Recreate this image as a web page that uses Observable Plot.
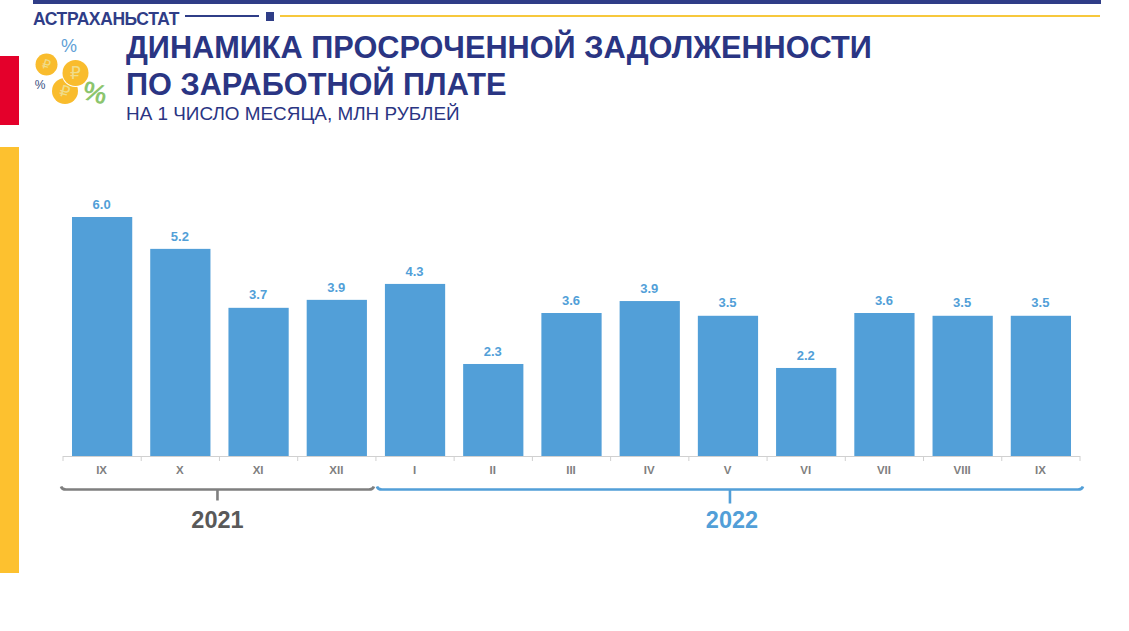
<!DOCTYPE html>
<html lang="ru"><head><meta charset="utf-8">
<script src="https://cdn.jsdelivr.net/npm/d3@7"></script>
<script src="https://cdn.jsdelivr.net/npm/@observablehq/plot@0.6"></script>
<style>
html,body{margin:0;padding:0;background:#fff;overflow:hidden}
body{width:1129px;height:631px;position:relative;font-family:"Liberation Sans",Arial,sans-serif}
.a{position:absolute;white-space:nowrap}
#chart{position:absolute;left:0;top:0}
#chart svg{display:block;background:transparent}
h1,h2{margin:0;font-weight:inherit;font-size:inherit}
</style></head><body>
<div class="a" style="left:33px;top:0;width:1068px;height:4px;background:#2f3d87"></div>
<div class="a" style="left:33px;top:9px;font-weight:700;font-size:17.5px;line-height:20px;color:#2f3d87;letter-spacing:-.4px">АСТРАХАНЬСТАТ</div>
<div class="a" style="left:185px;top:15px;width:74px;height:2px;background:#2f3d87"></div>
<div class="a" style="left:266px;top:12px;width:8px;height:9px;background:#2f3d87"></div>
<div class="a" style="left:280px;top:15px;width:820px;height:2px;background:#f7c83c"></div>
<div class="a" style="left:0;top:56px;width:19px;height:69px;background:#e4002b"></div>
<div class="a" style="left:0;top:147px;width:19px;height:426px;background:#fdc12f"></div>
<svg class="a" style="left:0;top:0" width="130" height="130" font-family="Liberation Sans">
  <text x="69" y="52" text-anchor="middle" font-size="18" fill="#5f9fd6">%</text>
  <text x="40" y="89" text-anchor="middle" font-size="12" fill="#39507f">%</text>
  <circle cx="46.500" cy="64.500" r="11" fill="#f9bc2d"/>
  <circle cx="65" cy="91" r="13" fill="#f9bc2d"/>
  <circle cx="75.500" cy="73" r="14" fill="#fff"/>
  <circle cx="75.500" cy="73" r="13" fill="#f9bc2d"/>
  <text x="46.500" y="69" text-anchor="middle" font-size="13" fill="#f0dc8a" font-family="DejaVu Sans" transform="rotate(15 46.500 64.500)">₽</text>
  <text x="75.500" y="79" text-anchor="middle" font-size="17" fill="#f0dc8a" font-family="DejaVu Sans">₽</text>
  <text x="65" y="97" text-anchor="middle" font-size="16" fill="#f0dc8a" font-family="DejaVu Sans" transform="rotate(15 65 91)">₽</text>
  <text x="95" y="102" text-anchor="middle" font-size="27" font-weight="700" fill="#8cc56e" transform="rotate(15 95 93)">%</text>
</svg>
<h1 class="a" style="left:126px;top:29px;font-weight:700;font-size:30.7px;line-height:37px;color:#2a3583">ДИНАМИКА ПРОСРОЧЕННОЙ ЗАДОЛЖЕННОСТИ<br>ПО ЗАРАБОТНОЙ ПЛАТЕ</h1>
<h2 class="a" style="left:126px;top:102px;font-size:18.9px;line-height:24px;color:#2a3583">НА 1 ЧИСЛО МЕСЯЦА, МЛН РУБЛЕЙ</h2>
<div id="chart"></div>
<script>
const months = ["IX","X","XI","XII","I","II","III","IV","V","VI","VII","VIII","IX"];
const years = [2021,2021,2021,2021,2022,2022,2022,2022,2022,2022,2022,2022,2022];
const values = [6.0,5.2,3.72,3.92,4.32,2.31,3.59,3.89,3.52,2.21,3.59,3.52,3.52];
const yearSpans = [
  {year:"2021", first:0, last:3, color:"#7f7f7f", text:"#595959", x0:-2, x1:-2, stem:11, labelDx:0},
  {year:"2022", first:4, last:12, color:"#529fd8", text:"#529fd8", x0:1, x1:3, stem:14, labelDx:2}
];
const rows = months.map((m,i)=>({key:i, month:m, year:years[i], value:values[i]}));
const barColor = "#529fd8";
const paddingOuter = 0.115;

function decorations(index, {x,y}) {
  const step = x(1)-x(0);
  const edge = i => x(i) - paddingOuter*step;
  const NS = "http://www.w3.org/2000/svg";
  const g = document.createElementNS(NS,"g");
  const y0 = y(0);
  const add = (tag, attrs, text) => {
    const e = document.createElementNS(NS,tag);
    for (const k in attrs) e.setAttribute(k, attrs[k]);
    if (text) e.textContent = text;
    g.appendChild(e);
  };
  for (let i=0;i<=months.length;i++) {
    const px = edge(0)+i*step;
    add("line",{x1:px,x2:px,y1:y0,y2:y0+5,stroke:"#d0d0d0"});
  }
  for (const s of yearSpans) {
    const a = edge(s.first)+s.x0, b = edge(s.last)+step+s.x1, by = y0+33.5, c=(a+b)/2;
    add("path",{d:`M${a},${by-3}Q${a+1},${by} ${a+5},${by}L${b-5},${by}Q${b-1},${by} ${b},${by-3}M${c},${by}V${by+s.stem}`,
      fill:"none",stroke:s.color,"stroke-width":2.6});
    add("text",{x:c+s.labelDx,y:y0+72,"text-anchor":"middle","font-size":23.500,"font-weight":700,fill:s.text,"font-family":"Liberation Sans"},s.year);
  }
  return g;
}

const plot = Plot.plot({
  width:1129, height:631,
  marginLeft:63, marginRight:49, marginTop:217, marginBottom:175,
  style:{fontFamily:"Liberation Sans", background:"transparent", overflow:"visible"},
  x:{type:"band", domain:d3.range(months.length), paddingInner:0.23, paddingOuter, round:false, axis:null},
  y:{domain:[0,6], axis:null},
  marks:[
    Plot.barY(rows,{x:"key", y:"value", fill:barColor}),
    Plot.ruleY([0],{stroke:"#d0d0d0"}),
    decorations,
    Plot.axisX({tickSize:0, tickPadding:9, tickFormat:i=>months[i], fontSize:11.5, fontWeight:700, color:"#7f7f7f", label:null, dx:-1}),
    Plot.text(rows,{x:"key", y:"value", text:d=>d.value.toFixed(1), dy:-13, dx:-1, fill:barColor, fontSize:13, fontWeight:700})
  ]
});
document.getElementById("chart").appendChild(plot);
</script>
</body></html>
